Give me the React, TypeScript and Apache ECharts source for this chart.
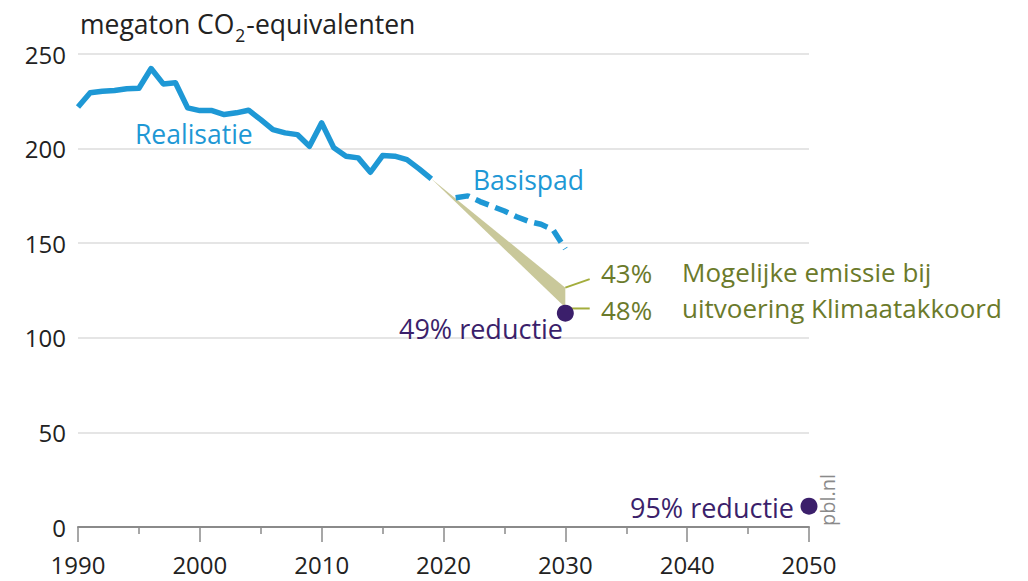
import React, { useEffect, useRef } from "react";
import * as echarts from "echarts";

const realisatieYears = [1990, 1991, 1992, 1993, 1994, 1995, 1996, 1997, 1998, 1999, 2000, 2001, 2002, 2003, 2004, 2005, 2006, 2007, 2008, 2009, 2010, 2011, 2012, 2013, 2014, 2015, 2016, 2017, 2018, 2019];
const realisatieValues = [222, 229.5, 230.3, 230.7, 231.6, 231.9, 242.3, 234.2, 234.8, 221.5, 220.1, 220.1, 218, 218.9, 220.3, 215.3, 210, 208.3, 207.4, 201.2, 213.6, 200.4, 196, 195.1, 187.5, 196.3, 196, 194.2, 189.3, 184];

const basispadYears = [2021, 2022, 2023, 2024, 2025, 2026, 2027, 2028, 2029, 2030];
const basispadValues = [174, 175, 172, 169.5, 167, 164, 161.5, 160, 157, 147];

const wedgeYears = [2019, 2030];
const wedgeUpper = [184, 126.5];
const wedgeLower = [184, 116];

const targetYears = [2030, 2050];
const targetValues = [113, 11];

const leader43 = [[2030, 126.5], [2032, 131]];
const leader48 = [[2030, 115.5], [2032, 115.5]];

const xTicks = { min: 1990, max: 2050, interval: 10 };
const yTicks = { min: 0, max: 250, interval: 50 };

const BLUE = "#1e98d5";
const PURPLE = "#3b1f6b";
const OLIVE = "#6b7a2b";
const FONT = "'Open Sans', 'Noto Sans', sans-serif";

function measure(text: string, font: string): number {
  const c = document.createElement("canvas").getContext("2d");
  if (!c) return text.length * 12;
  c.font = font;
  return c.measureText(text).width;
}

export default function App() {
  const ref = useRef<HTMLDivElement>(null);
  useEffect(() => {
    if (!ref.current) return;
    const chart = echarts.init(ref.current, undefined, { renderer: "svg" });
    const txt = (text: string, x: number, y: number, color: string, size: number, align = "left") => ({
      type: "text",
      x,
      y,
      style: { text, fill: color, font: `${size}px ${FONT}`, textAlign: align, textVerticalAlign: "middle" },
      z: 100,
    });
    const titleFont = `26.5px ${FONT}`;
    const subFont = `17.5px ${FONT}`;
    const t1 = "megaton CO";
    const t2 = "2";
    const t3 = "-equivalenten";
    const w1 = measure(t1, titleFont);
    const w2 = measure(t2, subFont);
    chart.setOption({
      animation: false,
      textStyle: { fontFamily: FONT },
      grid: { left: 78, right: 219, top: 54, bottom: 54 },
      xAxis: {
        type: "value",
        min: xTicks.min,
        max: xTicks.max,
        interval: xTicks.interval,
        splitLine: { show: false },
        axisLine: { show: true, lineStyle: { color: "#8a8a8a", width: 2 } },
        axisTick: { show: true, length: 15, lineStyle: { color: "#8a8a8a", width: 1.5 } },
        minorTick: { show: true, splitNumber: 2, length: 7, lineStyle: { color: "#8a8a8a", width: 1.5 } },
        axisLabel: { fontSize: 24, color: "#222", margin: 25, fontFamily: FONT, formatter: (v: number) => String(v) },
      },
      yAxis: {
        type: "value",
        min: yTicks.min,
        max: yTicks.max,
        interval: yTicks.interval,
        axisLine: { show: false },
        axisTick: { show: false },
        splitLine: { show: true, lineStyle: { color: "#dcdcdc", width: 1.5 } },
        axisLabel: { fontSize: 24, color: "#222", margin: 12, fontFamily: FONT },
      },
      series: [
        {
          type: "custom",
          name: "wedge",
          data: [0],
          z: 1,
          renderItem: (params: any, api: any) => {
            const pts: number[][] = [];
            for (let i = 0; i < wedgeYears.length; i++) pts.push(api.coord([wedgeYears[i], wedgeUpper[i]]));
            for (let i = wedgeYears.length - 1; i >= 0; i--) pts.push(api.coord([wedgeYears[i], wedgeLower[i]]));
            return { type: "polygon", shape: { points: pts }, style: { fill: "#c9c89a" } };
          },
        },
        {
          type: "line",
          name: "Realisatie",
          data: realisatieYears.map((y, i) => [y, realisatieValues[i]]),
          symbol: "none",
          lineStyle: { color: BLUE, width: 5.5, join: "round" },
          z: 3,
        },
        {
          type: "line",
          name: "Basispad",
          data: basispadYears.map((y, i) => [y, basispadValues[i]]),
          symbol: "none",
          lineStyle: { color: BLUE, width: 5.5, type: [14, 7] },
          z: 3,
        },
        {
          type: "line",
          data: leader43,
          symbol: "none",
          lineStyle: { color: "#a3ad3c", width: 2 },
          z: 2,
        },
        {
          type: "line",
          data: leader48,
          symbol: "none",
          lineStyle: { color: "#a3ad3c", width: 2 },
          z: 4,
        },
        {
          type: "scatter",
          data: targetYears.map((y, i) => [y, targetValues[i]]),
          symbolSize: 17,
          itemStyle: { color: PURPLE, opacity: 1 },
          z: 5,
        },
      ],
      graphic: [
        txt(t1, 80, 24, "#222", 26.5),
        txt(t2, 80 + w1 + 1, 35, "#222", 17.5),
        txt(t3, 80 + w1 + w2 + 2, 24, "#222", 26.5),
        txt("Realisatie", 135, 134, BLUE, 26.5),
        txt("Basispad", 473, 180, BLUE, 26.5),
        txt("49% reductie", 563, 328, PURPLE, 27, "right"),
        txt("95% reductie", 794, 507, PURPLE, 27, "right"),
        txt("43%", 601, 273, OLIVE, 26),
        txt("48%", 601, 310, OLIVE, 26),
        txt("Mogelijke emissie bij", 682, 272, OLIVE, 26),
        txt("uitvoering Klimaatakkoord", 682, 308, OLIVE, 26),
        {
          type: "text",
          x: 827,
          y: 500,
          rotation: Math.PI / 2,
          z: 100,
          style: { text: "pbl.nl", fill: "#8a8a8a", font: `20px ${FONT}`, textAlign: "center", textVerticalAlign: "middle" },
        },
      ],
    });
    return () => chart.dispose();
  }, []);
  return <div ref={ref} style={{ position: "absolute", left: 0, top: 0, width: 1028, height: 581 }} />;
}
